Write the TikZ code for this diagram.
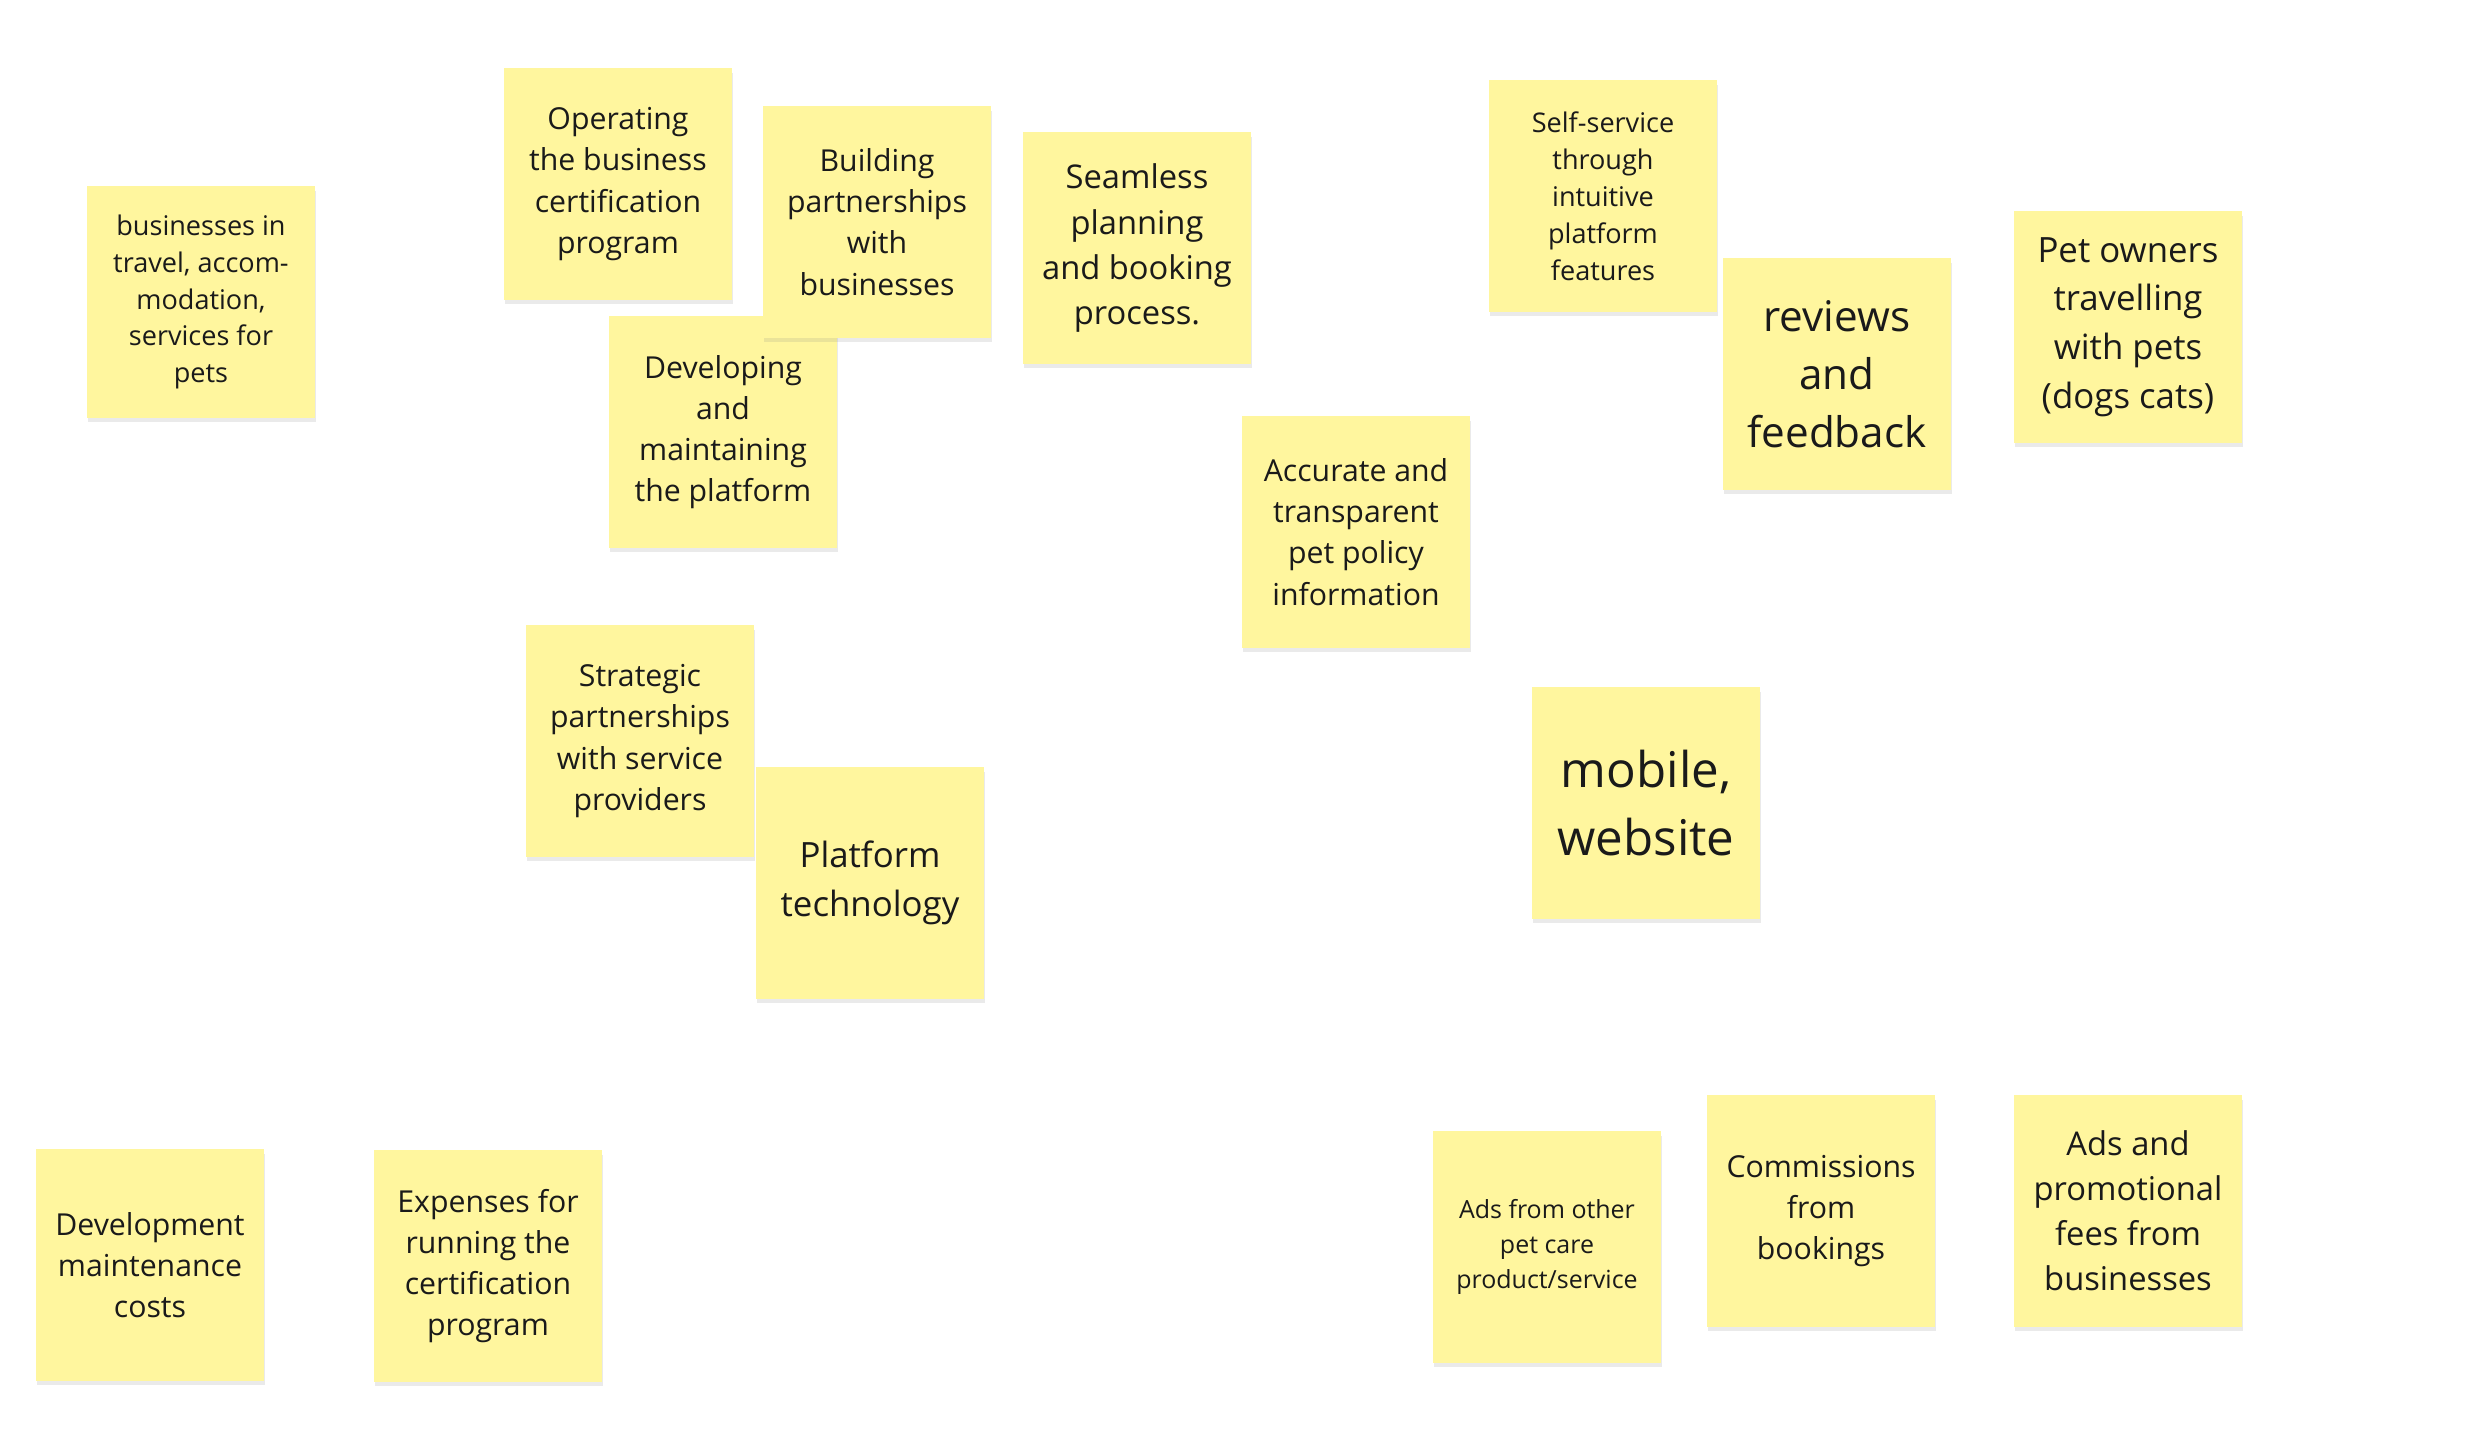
\documentclass[tikz,border=0pt]{standalone}
\usepackage{fontspec}
\setmainfont{Open Sans}
\usetikzlibrary{shadows}

\begin{document}
\begin{tikzpicture}[x=0.01cm,y=-0.01cm,
  note/.style={fill=sy,text=ink,inner sep=0pt,align=center,
    minimum width=2.28cm,minimum height=2.31cm,
    drop shadow={shadow xshift=0.3pt,shadow yshift=-1.3pt,opacity=0.16}},
  s1/.style={font=\fontsize{7.1pt}{9.9pt}\selectfont},
  s2/.style={font=\fontsize{7.7pt}{10.5pt}\selectfont},
  s3/.style={font=\fontsize{8.6pt}{11.7pt}\selectfont},
  s4/.style={font=\fontsize{9.3pt}{12.8pt}\selectfont},
  s5/.style={font=\fontsize{9.9pt}{13.8pt}\selectfont},
  s6/.style={font=\fontsize{12pt}{16.5pt}\selectfont},
  s7/.style={font=\fontsize{14pt}{19.3pt}\selectfont}]
\definecolor{sy}{RGB}{255,246,158}
\definecolor{ink}{RGB}{26,26,26}
\fill[white] (0,0) rectangle (2471,1450);
\useasboundingbox (0,0) rectangle (2471,1450);
\node[note,s2] (segbiz) at (201,302) {businesses in\\travel, accom-\\modation,\\services for\\pets};
\node[note,s3] (actcert) at (618,184) {Operating\\the business\\certification\\program};
\node[note,s3] (actdev) at (723,432) {Developing\\and\\maintaining\\the platform};
\node[note,s3] (actpart) at (877,222) {Building\\partnerships\\with\\businesses};
\node[note,s4] (valbook) at (1137,248) {Seamless\\planning\\and booking\\process.};
\node[note,s2] (relself) at (1603,196) {Self-service\\through\\intuitive\\platform\\features};
\node[note,s6] (relrev) at (1837,374) {reviews\\and\\feedback};
\node[note,s5] (segown) at (2128,327) {Pet owners\\travelling\\with pets\\(dogs cats)};
\node[note,s3] (valinfo) at (1356,532) {Accurate and\\transparent\\pet policy\\information};
\node[note,s3] (keypart) at (640,741) {Strategic\\partnerships\\with service\\providers};
\node[note,s5] (keytech) at (870,883) {Platform\\technology};
\node[note,s7] (chan) at (1646,803) {mobile,\\website};
\node[note,s3] (costdev) at (150,1265) {Development\\maintenance\\costs};
\node[note,s3] (costcert) at (488,1266) {Expenses for\\running the\\certification\\program};
\node[note,s1] (revads) at (1547,1247) {Ads from other\\pet care\\product/service};
\node[note,s3] (revcom) at (1821,1211) {Commissions\\from\\bookings};
\node[note,s4] (revfee) at (2128,1211) {Ads and\\promotional\\fees from\\businesses};
\end{tikzpicture}
\end{document}
